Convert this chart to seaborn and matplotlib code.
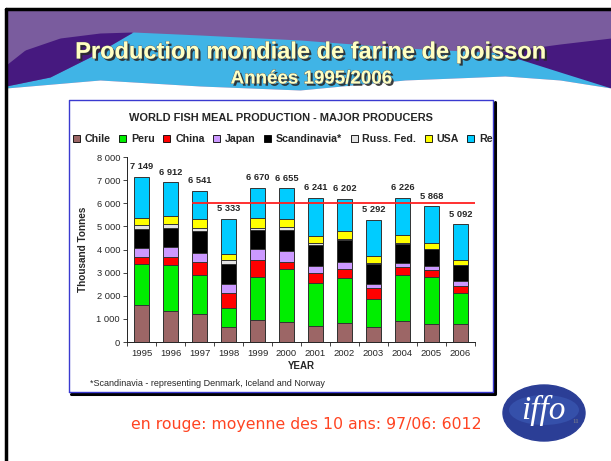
import numpy as np
import pandas as pd
import matplotlib.pyplot as plt
import seaborn as sns
import matplotlib.patheffects as pe
from matplotlib.patches import Patch, Ellipse
from matplotlib.ticker import FuncFormatter
from matplotlib.transforms import Bbox, TransformedBbox

# Data (thousand tonnes)
years = ['1995', '1996', '1997', '1998', '1999', '2000',
         '2001', '2002', '2003', '2004', '2005', '2006']
chile = [1590, 1360, 1210, 635, 940, 850, 690, 820, 660, 900, 790, 760]
peru = [1800, 1960, 1700, 820, 1890, 2300, 1850, 1950, 1220, 2000, 2040, 1350]
china = [290, 370, 540, 680, 710, 330, 460, 400, 440, 330, 290, 330]
japan = [390, 410, 390, 370, 490, 460, 290, 290, 190, 200, 180, 200]
scandinavia = [820, 810, 940, 870, 820, 910, 920, 960, 850, 810, 730, 680]
russia = [160, 200, 170, 170, 100, 110, 90, 50, 50, 60, 10, 10]
usa = [330, 320, 360, 270, 400, 350, 290, 340, 300, 330, 230, 220]
rest = [1769, 1482, 1231, 1518, 1320, 1345, 1651, 1392, 1582, 1596, 1598, 1542]

producers = ['Chile', 'Peru', 'China', 'Japan', 'Scandinavia*', 'Russ. Fed.', 'USA', 'Rest']
colors = ['#9C6666', '#00EE00', '#FF0000', '#CC99FF', '#000000', '#E3E3E3', '#FFFF00', '#00CCFF']

df = pd.DataFrame({'Year': years, 'Chile': chile, 'Peru': peru, 'China': china,
                   'Japan': japan, 'Scandinavia*': scandinavia, 'Russ. Fed.': russia,
                   'USA': usa, 'Rest': rest})
cum = df[producers].cumsum(axis=1)
totals = cum['Rest']
avg = totals[df['Year'] >= '1997'].mean()  # 6012

sns.set_style('white')
plt.rcParams['font.family'] = ['Liberation Sans', 'DejaVu Sans']

fig = plt.figure(figsize=(6.11, 4.61), dpi=100)

# slide background in pixel coordinates
bg = fig.add_axes([0, 0, 1, 1], zorder=0)
bg.set_xlim(0, 611)
bg.set_ylim(461, 0)
bg.axis('off')

xs = np.linspace(6, 611, 400)
bg.fill_between(xs, 10, 100, color='#7A5C9E', lw=0)
blue_top = np.interp(xs, [6, 50, 90, 133, 200, 300, 405, 505, 611], [86, 77, 57, 32, 35, 40, 48, 53, 58])
white_top = np.interp(xs, [6, 100, 200, 300, 405, 505, 560, 611], [88, 80, 86, 90, 80, 76, 80, 88])
bg.fill_between(xs, blue_top, white_top, color='#40B4E6', lw=0)
xl = xs[xs <= 133]
bg.fill_between(xl, np.interp(xl, [6, 25, 60, 100, 133], [65, 50, 38, 33, 32]),
                np.interp(xl, [6, 50, 90, 133], [86, 77, 57, 32]), color='#46197F', lw=0)
xr = xs[xs >= 500]
bg.fill_between(xr, np.interp(xr, [500, 560, 611], [52, 44, 38]),
                np.interp(xr, [500, 560, 611], [53, 72, 88]), color='#46197F', lw=0)
bg.fill_between(xs, white_top, 461, color='white', lw=0)

# slide border
bg.plot([6, 611], [9, 9], color='black', lw=2.5)
bg.plot([6, 6], [9, 461], color='black', lw=2.5)

shadow = [pe.SimplePatchShadow(offset=(1.6, -1.6), shadow_rgbFace='#2a2a2a', alpha=0.9),
          pe.Stroke(linewidth=0.5, foreground='#555555'), pe.Normal()]
bg.text(311, 52, 'Production mondiale de farine de poisson', fontsize=17, fontweight='bold',
        color='#FFFFC2', ha='center', va='center', path_effects=shadow)
bg.text(311, 79, 'Années 1995/2006', fontsize=13.5, fontweight='bold',
        color='#FFFFC2', ha='center', va='center', path_effects=shadow)

# chart box
bg.fill_between([69, 493], 100, 392, color='white', lw=0)
bg.plot([71, 495, 495], [394, 394, 102], color='black', lw=2.2)
bg.plot([69, 69, 493, 493, 69], [392, 100, 100, 392, 392], color='#3A3AD0', lw=1)
bg.text(281, 118, 'WORLD FISH MEAL PRODUCTION - MAJOR PRODUCERS', fontsize=7.9,
        fontweight='bold', ha='center', va='center')
bg.text(90, 383, '*Scandinavia - representing Denmark, Iceland and Norway', fontsize=6.5,
        ha='left', va='center')

# footer
bg.plot([35, 520], [422, 422], color='#EEEEEE', lw=3, zorder=0)
bg.text(131, 424, 'en rouge: moyenne des 10 ans: 97/06: {:.0f}'.format(avg), fontsize=11.3,
        color='#FF4422', ha='left', va='center', family='DejaVu Sans')
bg.add_patch(Ellipse((544, 413), 82, 56, color='#2B3E96'))
bg.add_patch(Ellipse((544, 410), 70, 30, color='#3550AA', lw=0))
bg.text(543, 410, 'iffo', fontsize=24, style='italic', color='white', ha='center', va='center',
        family='Liberation Serif')
bg.text(576, 421, '11', fontsize=5, color='#888888', ha='center', va='center',
        family='Liberation Serif')

# stacked bars
ax = fig.add_axes([127 / 611, 1 - 342 / 461, 348 / 611, 185 / 461], zorder=2)
for name, color in zip(producers[::-1], colors[::-1]):
    sns.barplot(x=df['Year'], y=cum[name], color=color, width=0.52, edgecolor='#333333',
                linewidth=0.7, saturation=1, ax=ax)

for i, t in enumerate(totals):
    ax.annotate('{:,}'.format(int(t)).replace(',', ' '), (i, t), xytext=(0, 4),
                textcoords='offset points', ha='center', va='bottom', fontsize=6.7, fontweight='bold')

start = list(df['Year']).index('1997') - 0.26
ax.hlines(avg, start, len(years) - 0.5, color='#FF2020', lw=1.3, zorder=5)

ax.set_xlim(-0.5, len(years) - 0.5)
ax.set_ylim(0, 8000)
ax.set_yticks(range(0, 8001, 1000))
ax.yaxis.set_major_formatter(FuncFormatter(lambda v, p: '{:,}'.format(int(v)).replace(',', ' ')))
ax.set_xticks(np.arange(-0.5, len(years), 1), minor=True)
ax.tick_params(axis='x', which='major', length=0, labelsize=6.8, pad=5)
ax.tick_params(axis='x', which='minor', length=3, width=0.6, direction='out', bottom=True)
ax.tick_params(axis='y', length=3, width=0.6, direction='out', left=True, labelsize=6.7, pad=2)
ax.set_xlabel('YEAR', fontsize=7, fontweight='bold', labelpad=2)
ax.set_ylabel('Thousand Tonnes', fontsize=7.2, fontweight='bold', labelpad=6)
sns.despine(ax=ax)
for s in ['left', 'bottom']:
    ax.spines[s].set_color('#222222')
    ax.spines[s].set_linewidth(0.7)

# legend, clipped at the chart box like the original
handles = [Patch(facecolor=c, edgecolor='black', lw=0.6) for c in colors]
leg = fig.legend(handles, producers, loc='center left', bbox_to_anchor=(73 / 611, 1 - 139 / 461),
                 ncol=8, frameon=False, prop={'size': 7.7, 'weight': 'bold'},
                 handlelength=0.65, handleheight=0.65, handletextpad=0.45, columnspacing=0.8,
                 borderpad=0, borderaxespad=0)
clip = TransformedBbox(Bbox([[0, 0], [493 / 611, 1]]), fig.transFigure)
for t in leg.get_texts():
    t.set_clip_box(clip)
    t.set_clip_on(True)

fig.savefig('out.png', dpi=100)
